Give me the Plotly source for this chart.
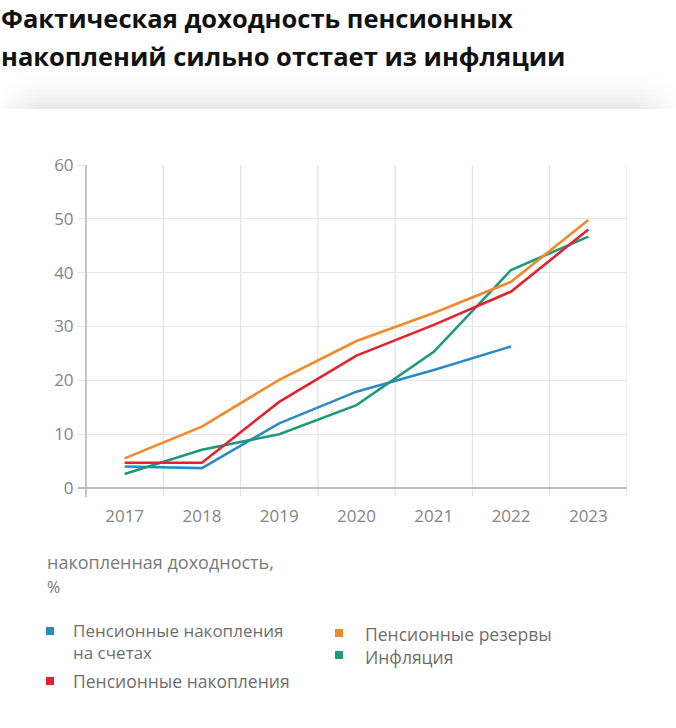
import plotly.graph_objects as go

years = ["2017", "2018", "2019", "2020", "2021", "2022", "2023"]
accounts = [4.0, 3.7, 12.0, 17.9, 21.9, 26.3, None]
reserves = [5.5, 11.4, 20.1, 27.3, 32.5, 38.3, 49.8]
savings = [4.7, 4.7, 16.0, 24.6, 30.3, 36.5, 48.0]
inflation = [2.6, 7.1, 10.0, 15.4, 25.3, 40.5, 46.7]

series_names = ["Пенсионные накопления на счетах", "Пенсионные резервы",
                "Пенсионные накопления", "Инфляция"]
colors = ["#2b8cc4", "#ef8a2c", "#e2232f", "#1d9a7c"]

title_lines = ["Фактическая доходность пенсионных", "накоплений сильно отстает из инфляции"]
unit_label = ["накопленная доходность,", "%"]
yticks = [0, 10, 20, 30, 40, 50, 60]

W, H = 676, 728
L, R, T, B = 86, 627, 165, 488

def px(x):
    return (x - L) / (R - L)

def py(y):
    return (B - y) / (B - T)

fig = go.Figure()
order = [0, 3, 1, 2]
all_vals = [accounts, reserves, savings, inflation]
for i in order:
    fig.add_trace(go.Scatter(x=years, y=all_vals[i], name=series_names[i], mode="lines",
                             line=dict(color=colors[i], width=2.6), connectgaps=False,
                             showlegend=False))

shapes = []
top, bot = 76, 109
n = 16
for i in range(n):
    y0 = top + (bot - top) * i / n
    y1 = top + (bot - top) * (i + 1) / n
    g = int(255 - (255 - 234) * ((i + 1) / n) ** 1.3)
    shapes.append(dict(type="rect", xref="paper", yref="paper",
                       x0=px(0), x1=px(W), y0=py(y1), y1=py(y0),
                       fillcolor=f"rgb({g},{g},{g})", line=dict(width=0), layer="below"))
m = 10
for i in range(m):
    op = 0.85 * (1 - i / m)
    w = 4
    for xs in (i * w, W - (i + 1) * w):
        shapes.append(dict(type="rect", xref="paper", yref="paper",
                           x0=px(xs), x1=px(xs + w), y0=py(bot), y1=py(top),
                           fillcolor="white", opacity=op, line=dict(width=0), layer="below"))

sq = [(46, 627, colors[0]), (46, 677, colors[2]), (335, 629, colors[1]), (335, 651, colors[3])]
for x0, y0, c in sq:
    shapes.append(dict(type="rect", xref="paper", yref="paper",
                       x0=px(x0), x1=px(x0 + 8), y0=py(y0 + 8), y1=py(y0),
                       fillcolor=c, line=dict(width=0)))

annotations = []

def txt(s, x, yc, size, color, bold=False, yanchor="middle"):
    annotations.append(dict(text=("<b>" + s + "</b>") if bold else s,
                            xref="paper", yref="paper", x=px(x), y=py(yc),
                            xanchor="left", yanchor=yanchor, align="left", showarrow=False,
                            font=dict(family="Open Sans", size=size, color=color)))

txt(title_lines[0], -1, 18, 25.5, "#111111", bold=True)
txt(title_lines[1], -1, 56, 25.5, "#111111", bold=True)
txt(unit_label[0], 45, 562, 18, "#7a7a7a")
txt(unit_label[1], 45, 587, 16, "#7a7a7a")
lc = "#6e6e6e"
txt("Пенсионные накопления<br>на счетах", 71, 641, 17, lc)
txt(series_names[2], 71, 681, 17.5, lc)
txt(series_names[1], 363, 634, 17.5, lc)
txt(series_names[3], 363, 657, 17.5, lc)

fig.update_layout(
    width=W, height=H,
    margin=dict(l=L, r=W - R, t=T, b=H - B, pad=0),
    paper_bgcolor="white", plot_bgcolor="white",
    shapes=shapes, annotations=annotations,
    showlegend=False,
    font=dict(family="Open Sans"),
)
fig.update_xaxes(range=[-0.5, 6.5], showgrid=False, showline=False,
                 ticks="", tickfont=dict(size=17, color="#858585"), ticklabelstandoff=16,
                 fixedrange=True)
for k in range(7):
    xv = k + 0.5
    fig.add_shape(type="line", xref="x", yref="paper", x0=xv, x1=xv, y0=-8 / (B - T), y1=1,
                  line=dict(color="#e3e3e3", width=1.2), layer="below")
fig.update_yaxes(range=[0, 60], tickvals=yticks, showgrid=True, gridcolor="#e6e6e6", gridwidth=1.2,
                 zeroline=False, showline=False, ticks="outside", ticklen=8, tickcolor="#e6e6e6",
                 tickfont=dict(size=17, color="#858585"), fixedrange=True)
fig.add_shape(type="line", xref="paper", yref="paper", x0=-8 / (R - L), x1=1, y0=0, y1=0,
              line=dict(color="#a8a8a8", width=1.5))
fig.add_shape(type="line", xref="paper", yref="paper", x0=0, x1=0, y0=-9 / (B - T), y1=1,
              line=dict(color="#b4b4b4", width=1.5))

fig.write_html("out.html")
